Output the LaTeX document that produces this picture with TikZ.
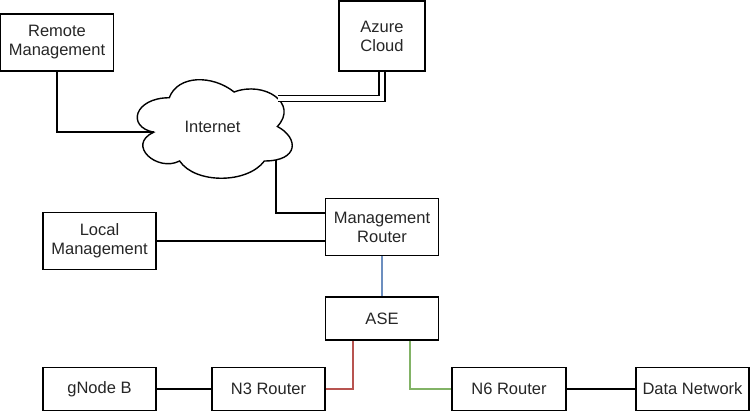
\documentclass[tikz,border=0pt]{standalone}
\usepackage{fontspec}
\setmainfont{Liberation Sans}
\begin{document}
\begin{tikzpicture}[x=1pt,y=-1pt,
  every node/.style={font=\fontsize{16.5}{19}\selectfont, text=black!85},
  boxnode/.style={draw=black, line width=1.4pt, fill=white, align=center, inner sep=0pt},
  conn/.style={draw=black, line width=1.7pt},
  blueconn/.style={draw={rgb,255:red,108;green,142;blue,191}, line width=1.7pt},
  redconn/.style={draw={rgb,255:red,184;green,84;blue,80}, line width=1.7pt},
  greenconn/.style={draw={rgb,255:red,130;green,179;blue,102}, line width=1.7pt},
  dblconn/.style={draw=black, line width=1.7pt, double=white, double distance=4.2pt}]
\useasboundingbox (0,0) rectangle (750,411);

% boxes
\node[boxnode, minimum width=113pt, minimum height=57pt] (rm) at (57,42.5) {Remote\\Management};
\node[boxnode, minimum width=86pt, minimum height=70pt] (az) at (382,36) {Azure\\Cloud};
\node[boxnode, minimum width=113pt, minimum height=57pt] (mr) at (382,227) {Management\\Router};
\node[boxnode, minimum width=113pt, minimum height=57pt] (lm) at (99.5,241) {Local\\Management};
\node[boxnode, minimum width=113pt, minimum height=43pt] (ase) at (382,318.5) {ASE};
\node[boxnode, minimum width=113pt, minimum height=43pt] (gnb) at (99.5,389) {gNode B};
\node[boxnode, minimum width=113pt, minimum height=43pt] (n3) at (268.5,389) {N3 Router};
\node[boxnode, minimum width=114pt, minimum height=43pt] (n6) at (509,389) {N6 Router};
\node[boxnode, minimum width=113pt, minimum height=43pt] (dn) at (692.5,389) {Data Network};

% cloud
\begin{scope}[shift={(126,69)}, x=173pt, y=-115pt]
  \draw[line width=1.4pt, fill=white]
    (0.25,0.25) .. controls (0.05,0.25) and (0,0.5) .. (0.16,0.55)
    .. controls (0,0.66) and (0.18,0.9) .. (0.31,0.8)
    .. controls (0.4,1) and (0.7,1) .. (0.8,0.8)
    .. controls (1,0.8) and (1,0.6) .. (0.875,0.5)
    .. controls (1,0.3) and (0.8,0.1) .. (0.625,0.2)
    .. controls (0.5,0.05) and (0.3,0.05) .. (0.25,0.25) -- cycle;
  \coordinate (inetL) at (0.16,0.55);
  \coordinate (inetR) at (0.877,0.257);
  \coordinate (inetB) at (0.867,0.79);
\end{scope}
\node (inet) at (212.5,127) {Internet};

% connectors
\draw[conn] (rm.south) |- (inetL);
\draw[dblconn] (az.south) |- (inetR);
\draw[conn] (inetB) |- ([yshift=14pt]mr.west);
\draw[conn] (lm.east) -- (lm.east -| mr.west);
\draw[blueconn] (mr.south) -- (ase.north);
\draw[redconn] (n3.east) -| ([xshift=-29pt]ase.south);
\draw[greenconn] ([xshift=28pt]ase.south) |- (n6.west);
\draw[conn] (gnb.east) -- (n3.west);
\draw[conn] (n6.east) -- (dn.west);
\end{tikzpicture}
\end{document}
